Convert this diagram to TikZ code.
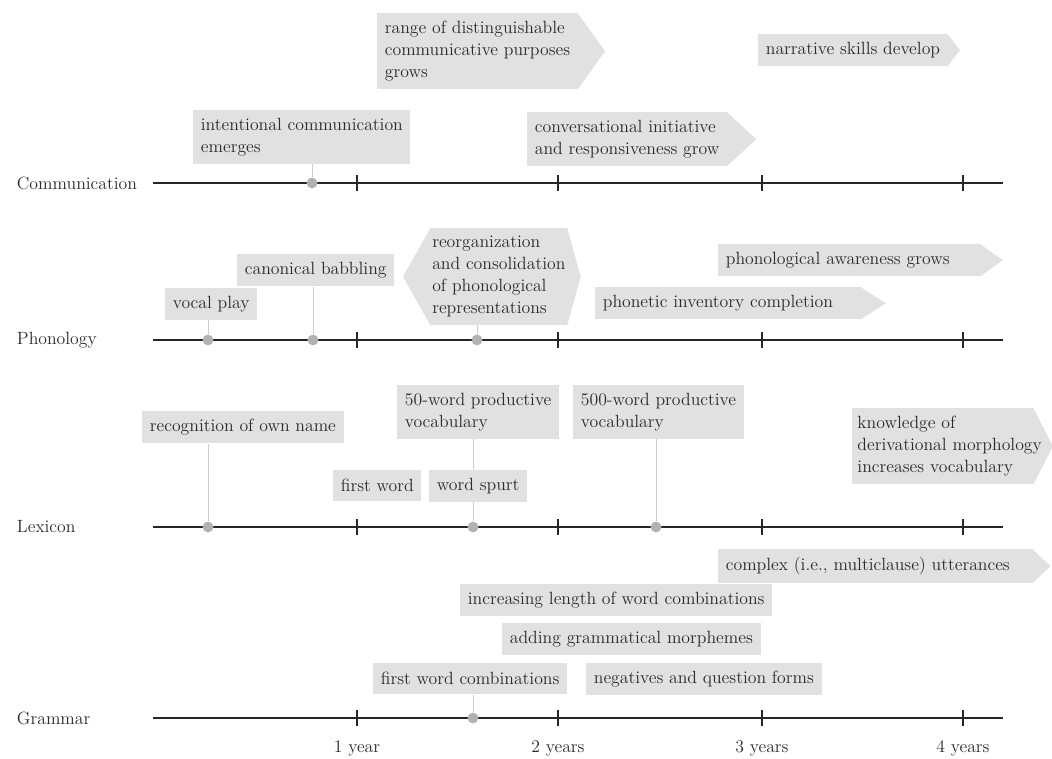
\documentclass[tikz,border=0pt]{standalone}
\usepackage{tikz}
\usetikzlibrary{positioning,calc,backgrounds}

\definecolor{boxgray}{RGB}{225,225,225}
\definecolor{dotgray}{RGB}{178,178,178}
\definecolor{stemgray}{RGB}{205,205,205}
\definecolor{inkgray}{RGB}{42,42,42}

\newcommand{\labelfont}{\fontsize{12.6}{15.6}\selectfont}
% pointed ends for the growing milestones (kept behind the text)
\newcommand{\pointright}[2]{\begin{scope}[on background layer]\fill[boxgray] ($(#1.north east)+(-0.5,0)$) -- ($(#1.east)+(#2,0)$) -- ($(#1.south east)+(-0.5,0)$) -- cycle;\end{scope}}
\newcommand{\pointleft}[2]{\begin{scope}[on background layer]\fill[boxgray] ($(#1.north west)+(0.5,0)$) -- ($(#1.west)+(-#2,0)$) -- ($(#1.south west)+(0.5,0)$) -- cycle;\end{scope}}

\tikzset{
  milestone/.style={fill=boxgray, anchor=north west, align=left, inner xsep=0.19cm, inner ysep=0.2cm, minimum height=0.775cm, font=\labelfont, text=inkgray},
  event/.style={circle, fill=dotgray, inner sep=0pt, minimum size=0.27cm},
  stem/.style={draw=stemgray, line width=0.5pt},
  axis/.style={line width=0.85pt, color=black!85},
  rowname/.style={anchor=west, font=\labelfont, text=inkgray},
  yearname/.style={font=\labelfont, text=inkgray},
}

\begin{document}
\begin{tikzpicture}[x=0.025cm, y=-0.025cm]
\useasboundingbox (0,0) rectangle (1052,758);

% time axes
\foreach \row/\ypos in {Communication/183, Phonology/340, Lexicon/527, Grammar/718}{
  \node[rowname] (name\row) at (12,\ypos) {\row};
  \draw[axis] (153,\ypos) -- (1003,\ypos);
  \foreach \xtick in {357,558,762,963}
    \draw[axis] (\xtick,\ypos-8) -- (\xtick,\ypos+8);
}
\node[yearname] (year1) at (357,748) {1 year};
\node[yearname] (year2) at (558,748) {2 years};
\node[yearname] (year3) at (762,748) {3 years};
\node[yearname] (year4) at (963,748) {4 years};

% Communication
\node[milestone] (range) at (377,13) {range of distinguishable\\communicative purposes\\grows};
\pointright{range}{27}
\node[milestone] (narrative) at (758,34) {narrative skills develop};
\pointright{narrative}{12}
\node[milestone] (intent) at (193,110) {intentional communication\\emerges};
\node[milestone] (convers) at (527,112) {conversational initiative\\and responsiveness grow};
\pointright{convers}{29}
\node[event] (intentdot) at (312,183) {};

% Phonology
\node[milestone] (vocal) at (165,288) {vocal play};
\node[milestone] (canon) at (237,254) {canonical babbling};
\node[milestone, inner xsep=0.05cm] (reorg) at (430,228) {reorganization\\and consolidation\\of phonological\\representations};
\pointleft{reorg}{27}
\pointright{reorg}{13}
\node[milestone, text width=6.17cm] (aware) at (718,244) {phonological awareness grows};
\pointright{aware}{22}
\node[milestone, text width=6.25cm] (phonetic) at (595,287) {phonetic inventory completion};
\pointright{phonetic}{25}
\node[event] (vocaldot) at (208,340) {};
\node[event] (canondot) at (313,340) {};
\node[event] (reorgdot) at (477,340) {};

% Lexicon
\node[milestone] (recog) at (142,411) {recognition of own name};
\node[milestone] (firstword) at (333,470) {first word};
\node[milestone] (spurt) at (429,470) {word spurt};
\node[milestone] (fifty) at (397,385) {50-word productive\\vocabulary};
\node[milestone] (fivehundred) at (573,385) {500-word productive\\vocabulary};
\node[milestone, inner xsep=0.13cm, text width=4.27cm] (deriv) at (852,408) {knowledge of\\\mbox{derivational morphology}\\increases vocabulary};
\pointright{deriv}{19}
\node[event] (recogdot) at (208,527) {};
\node[event] (fiftydot) at (473,527) {};
\node[event] (fivehundreddot) at (656,527) {};

% Grammar
\node[milestone, text width=7.47cm] (complex) at (718,549) {complex (i.e., multiclause) utterances};
\pointright{complex}{18}
\node[milestone] (length) at (460,584) {increasing length of word combinations};
\node[milestone] (morph) at (502,623) {adding grammatical morphemes};
\node[milestone] (firstcomb) at (373,663) {first word combinations};
\node[milestone] (negq) at (586,663) {negatives and question forms};
\node[event] (firstcombdot) at (473,718) {};

% stems behind the boxes
\begin{scope}[on background layer]
  \draw[stem] (intentdot) -- (intentdot |- intent.south);
  \draw[stem] (vocaldot) -- (vocaldot |- vocal.south);
  \draw[stem] (canondot) -- (canondot |- canon.south);
  \draw[stem] (reorgdot) -- (reorgdot |- reorg.south);
  \draw[stem] (recogdot) -- (recogdot |- recog.south);
  \draw[stem] (fiftydot) -- (fiftydot |- fifty.south);
  \draw[stem] (fivehundreddot) -- (fivehundreddot |- fivehundred.south);
  \draw[stem] (firstcombdot) -- (firstcombdot |- firstcomb.south);
\end{scope}
\end{tikzpicture}
\end{document}
